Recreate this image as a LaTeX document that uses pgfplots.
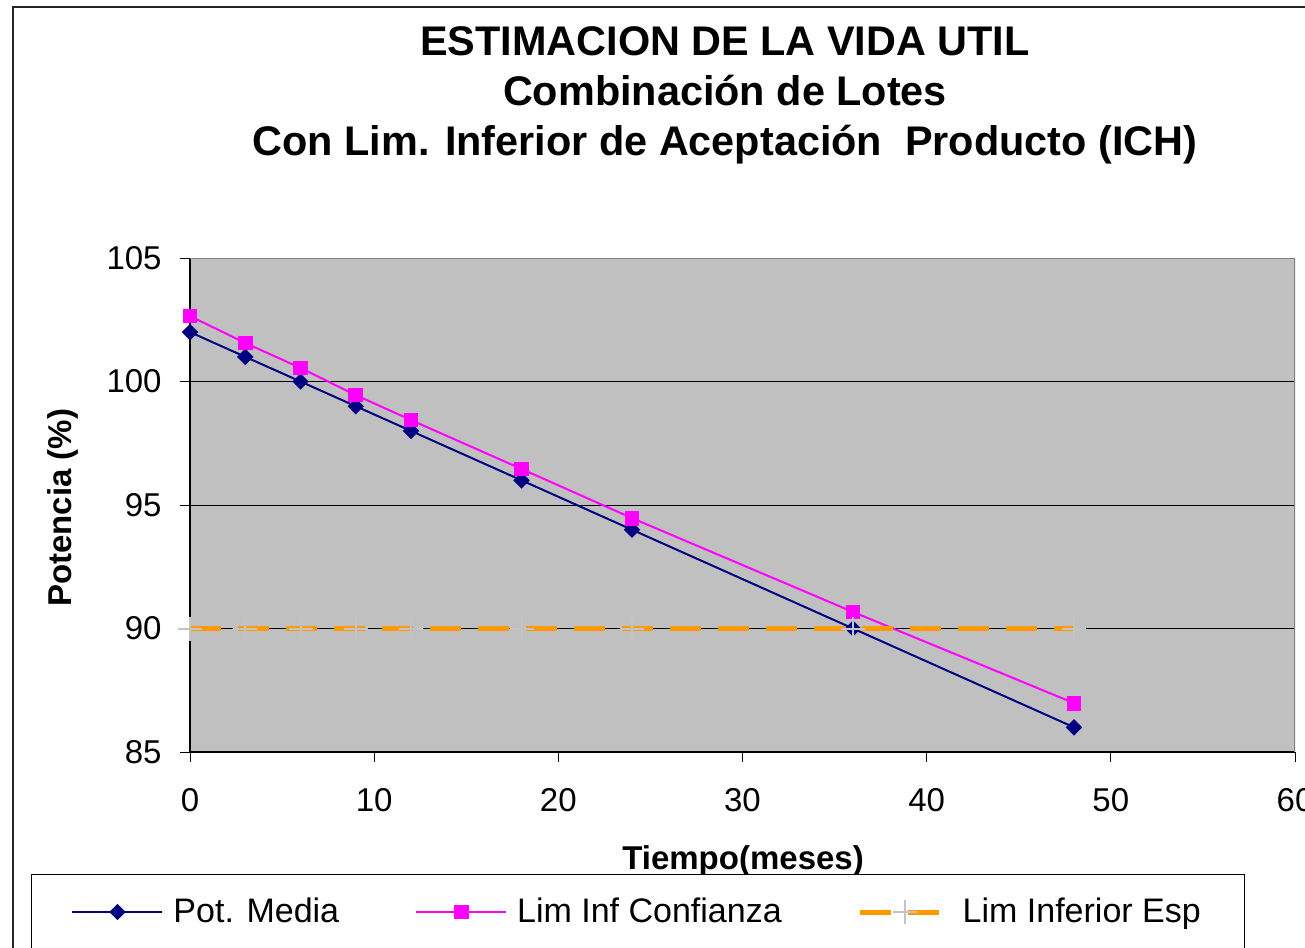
\documentclass[border=0pt]{standalone}
\usepackage{pgfplots}
\pgfplotsset{compat=1.18}
\usepackage{fontspec}
\setmainfont{Liberation Sans}
\definecolor{plotbg}{HTML}{C0C0C0}
\definecolor{navyc}{HTML}{000080}
\definecolor{magc}{HTML}{FF00FF}
\definecolor{orc}{HTML}{FF9900}
\definecolor{plusc}{HTML}{C4C4C4}
\begin{document}
\begin{tikzpicture}
\useasboundingbox (0,0) rectangle (652.5pt,-473.5pt);
\clip (0,0) rectangle (652.5pt,-473.5pt);
\draw[line width=1pt, black!85] (6.5pt,-600pt) -- (6.5pt,-3.5pt) -- (700pt,-3.5pt);
\node[align=center, font=\fontsize{20.7}{25}\selectfont\bfseries] at (362.5pt,-47.75pt)
  {ESTIMACION DE LA VIDA UTIL\\Combinación de Lotes\\Con Lim. Inferior de Aceptación\ \ Producto (ICH)};
\begin{axis}[
  at={(95pt,-376pt)}, anchor=south west,
  width=552.5pt, height=247pt, scale only axis,
  xmin=0, xmax=60, ymin=85, ymax=105,
  xtick={0,10,...,60}, ytick={85,90,...,105},
  axis x line*=bottom, axis y line*=left,
  axis line style={line width=0.75pt, black, -},
  axis background/.style={fill=plotbg},
  ymajorgrids, major grid style={black, line width=0.5pt},
  tick align=outside, major tick length=5pt,
  tick style={black, line width=0.5pt},
  /pgf/number format/assume math mode=true,
  tick label style={font=\fontsize{16.5}{20}\selectfont},
  xticklabel style={anchor=center, yshift=-19pt},
  yticklabel style={anchor=east, inner sep=0pt, xshift=-9pt},
  xlabel={Tiempo(meses)}, ylabel={Potencia (\%)},
  label style={font=\fontsize{16.5}{20}\selectfont\bfseries},
  xlabel style={at={(axis description cs:0.5005,-0.2207)}, anchor=center},
  ylabel style={at={(axis description cs:-0.115,0.494)}, anchor=center, rotate=0},
  legend columns=3,
  legend style={at={(axis description cs:-0.1439,-0.3239)}, anchor=west,
    draw=black, line width=0.5pt, inner xsep=20pt, inner ysep=10pt,
    font=\fontsize{17}{20}\selectfont,
    /tikz/every odd column/.append style={column sep=3pt},
    /tikz/every even column/.append style={column sep=36pt}},
  legend image code/.code={\draw[mark repeat=2,mark phase=2] plot coordinates {(0pt,0pt) (22.5pt,0pt) (45pt,0pt)};},
]
\addplot[navyc, line width=1pt, mark=square*, mark size=2.4pt, mark options={rotate=45, solid}]
  coordinates {(0,102) (3,101) (6,100) (9,99) (12,98) (18,96) (24,94) (36,90) (48,86)};
\addlegendentry{Pot. Media}
\addplot[magc, line width=1pt, mark=square*, mark size=3.2pt, mark options={solid}]
  coordinates {(0,102.65) (3,101.56) (6,100.55) (9,99.45) (12,98.44) (18,96.46) (24,94.47) (36,90.67) (48,86.98)};
\addlegendentry{Lim Inf Confianza}
\addplot[orc, line width=2.5pt, dash pattern=on 15.5pt off 8.5pt, mark=+, mark size=6pt, mark options={solid, plusc, line width=1pt}]
  coordinates {(0,90) (3,90) (6,90) (9,90) (12,90) (18,90) (24,90) (36,90) (48,90)};
\addlegendentry{Lim Inferior Esp}
\draw[line width=1pt, gray] (rel axis cs:0,1) -- (rel axis cs:1,1) -- (rel axis cs:1,0);
\end{axis}
\end{tikzpicture}
\end{document}
